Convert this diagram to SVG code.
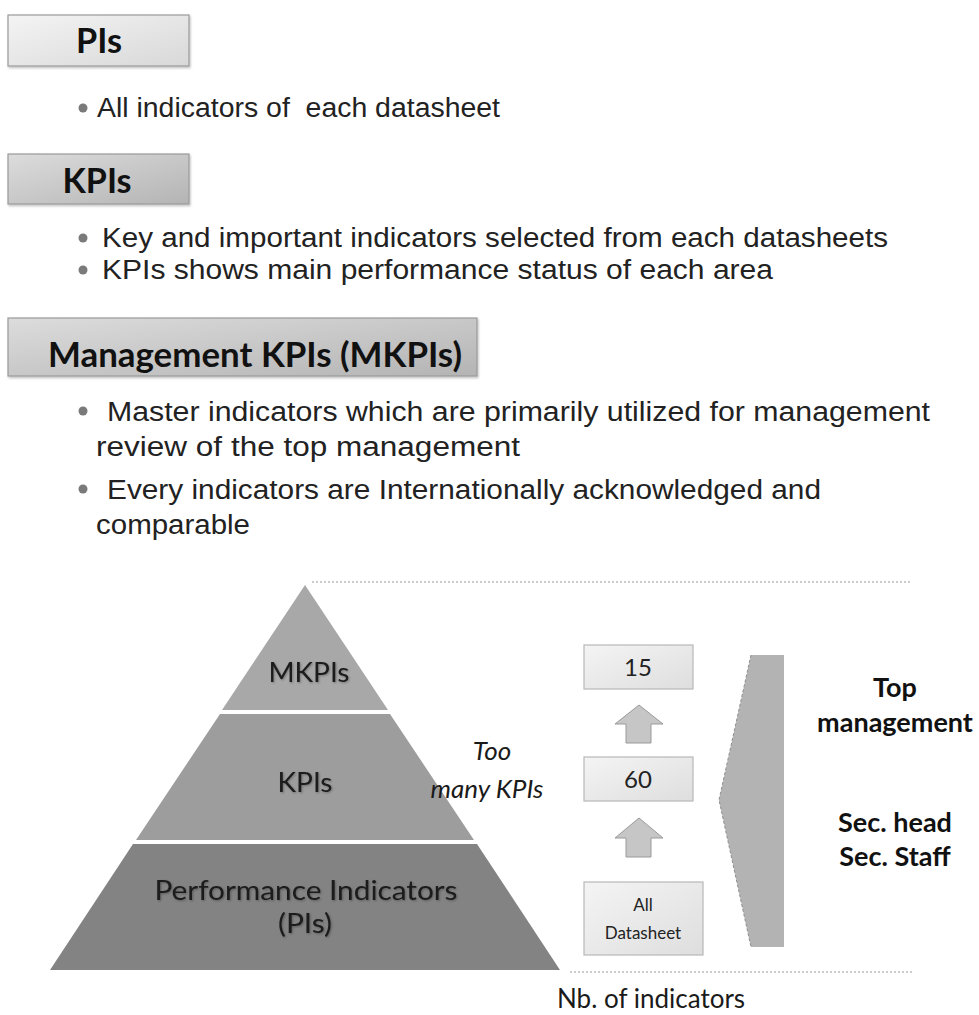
<svg xmlns="http://www.w3.org/2000/svg" width="979" height="1015" viewBox="0 0 979 1015">
  <defs>
    <linearGradient id="hdrLight" x1="0" y1="0" x2="1" y2="1">
      <stop offset="0" stop-color="#f4f4f4"/>
      <stop offset="1" stop-color="#d8d8d8"/>
    </linearGradient>
    <linearGradient id="hdrDark" x1="0" y1="0" x2="1" y2="1">
      <stop offset="0" stop-color="#dcdcdc"/>
      <stop offset="1" stop-color="#b4b4b4"/>
    </linearGradient>
    <linearGradient id="boxFill" x1="0" y1="0" x2="1" y2="1">
      <stop offset="0" stop-color="#f4f4f4"/>
      <stop offset="1" stop-color="#dedede"/>
    </linearGradient>
    <filter id="soft" x="-5%" y="-5%" width="110%" height="120%">
      <feDropShadow dx="1" dy="1.5" stdDeviation="1" flood-color="#000" flood-opacity="0.25"/>
    </filter>
    <filter id="txtShadow" x="-5%" y="-10%" width="110%" height="130%">
      <feDropShadow dx="1" dy="1" stdDeviation="0.8" flood-color="#000" flood-opacity="0.3"/>
    </filter>
  </defs>
  <style>
    .hdr { stroke: #9a9a9a; stroke-width: 1.2; }
    .hdrTxt { font-family: Lato, "Open Sans", sans-serif; font-weight: bold; fill: #111; text-anchor: middle; }
    .body { font-family: "Liberation Sans", Arial, sans-serif; font-size: 27px; fill: #222; white-space: pre; }
    .dot { fill: #7a7a7a; }
    .tierTxt { font-family: Lato, "Open Sans", sans-serif; font-size: 26px; fill: #1a1a1a; text-anchor: middle; }
    .num { fill: url(#boxFill); stroke: #b8b8b8; stroke-width: 1.2; }
    .numTxt { font-family: Lato, "Open Sans", sans-serif; font-size: 24px; fill: #222; text-anchor: middle; }
    .smallTxt { font-family: Lato, "Open Sans", sans-serif; font-size: 17px; fill: #222; text-anchor: middle; }
    .arrow { fill: #c6c6c6; stroke: #9a9a9a; stroke-width: 1; }
    .roleTxt { font-family: Lato, "Open Sans", sans-serif; font-weight: bold; font-size: 27px; fill: #111; text-anchor: middle; }
    .guide { stroke: #9a9a9a; stroke-width: 1.2; stroke-dasharray: 2 2; fill: none; }
  </style>

  <!-- Section: PIs -->
  <g id="hdr-pis">
    <rect class="hdr" x="8" y="15" width="181" height="51" fill="url(#hdrLight)" filter="url(#soft)"/>
    <text class="hdrTxt" x="99" y="53" font-size="34" textLength="46" lengthAdjust="spacingAndGlyphs">PIs</text>
  </g>
  <g id="txt-pis">
    <circle class="dot" cx="83" cy="108" r="4.5"/>
    <text class="body" x="97" y="117" font-size="26" textLength="403" lengthAdjust="spacingAndGlyphs">All indicators of  each datasheet</text>
  </g>

  <!-- Section: KPIs -->
  <g id="hdr-kpis">
    <rect class="hdr" x="8" y="154" width="181" height="50" fill="url(#hdrDark)" filter="url(#soft)"/>
    <text class="hdrTxt" x="97" y="193" font-size="35" textLength="69" lengthAdjust="spacingAndGlyphs">KPIs</text>
  </g>
  <g id="txt-kpis">
    <circle class="dot" cx="83" cy="238" r="4.5"/>
    <text class="body" x="102" y="247" textLength="786" lengthAdjust="spacingAndGlyphs">Key and important indicators selected from each datasheets</text>
    <circle class="dot" cx="83" cy="270" r="4.5"/>
    <text class="body" x="102" y="279" textLength="671" lengthAdjust="spacingAndGlyphs">KPIs shows main performance status of each area</text>
  </g>

  <!-- Section: Management KPIs -->
  <g id="hdr-mkpis">
    <rect class="hdr" x="8" y="318" width="469" height="58" fill="url(#hdrDark)" filter="url(#soft)"/>
    <text class="hdrTxt" x="255" y="367" font-size="35" textLength="414" lengthAdjust="spacingAndGlyphs">Management KPIs (MKPIs)</text>
  </g>
  <g id="txt-mkpis">
    <circle class="dot" cx="83" cy="411" r="4.5"/>
    <text class="body" x="107" y="421" textLength="823" lengthAdjust="spacingAndGlyphs">Master indicators which are primarily utilized for management</text>
    <text class="body" x="96" y="456" textLength="424" lengthAdjust="spacingAndGlyphs">review of the top management</text>
    <circle class="dot" cx="83" cy="489" r="4.5"/>
    <text class="body" x="107" y="499" textLength="714" lengthAdjust="spacingAndGlyphs">Every indicators are Internationally acknowledged and</text>
    <text class="body" x="96" y="534" textLength="154" lengthAdjust="spacingAndGlyphs">comparable</text>
  </g>

  <!-- Guide lines -->
  <g id="connectors">
    <line class="guide" x1="312" y1="582" x2="912" y2="582"/>
    <line class="guide" x1="570" y1="972" x2="912" y2="972"/>
  </g>

  <!-- Pyramid tiers -->
  <g id="tier-mkpis">
    <polygon points="305,585 388,710 222,710" fill="#a8a8a8"/>
    <text class="tierTxt" x="309" y="682" textLength="81" lengthAdjust="spacingAndGlyphs" filter="url(#txtShadow)">MKPIs</text>
  </g>
  <g id="tier-kpis">
    <polygon points="220,714 390,714 474,840 136,840" fill="#9d9d9d"/>
    <text class="tierTxt" x="305" y="792" textLength="55" lengthAdjust="spacingAndGlyphs" filter="url(#txtShadow)">KPIs</text>
  </g>
  <g id="tier-pis">
    <polygon points="133,844 477,844 560,970 50,970" fill="#838383"/>
    <text class="tierTxt" x="306" y="900" font-size="28" textLength="303" lengthAdjust="spacingAndGlyphs" filter="url(#txtShadow)">Performance Indicators</text>
    <text class="tierTxt" x="305" y="933" font-size="28" textLength="54" lengthAdjust="spacingAndGlyphs" filter="url(#txtShadow)">(PIs)</text>
  </g>

  <g id="note-too-many">
    <text class="tierTxt" x="492" y="760" font-size="22" font-style="italic">Too</text>
    <text class="tierTxt" x="487" y="798" font-size="22" font-style="italic">many KPIs</text>
  </g>

  <!-- Indicator counts -->
  <g id="count-15">
    <rect class="num" x="584" y="645" width="109" height="44"/>
    <text class="numTxt" x="638" y="676">15</text>
  </g>
  <g id="arrow-upper">
    <polygon class="arrow" points="639,705 663,724 651,724 651,743 626,743 626,724 615,724"/>
  </g>
  <g id="count-60">
    <rect class="num" x="584" y="757" width="109" height="44"/>
    <text class="numTxt" x="638" y="788">60</text>
  </g>
  <g id="arrow-lower">
    <polygon class="arrow" points="639,818 663,838 651,838 651,857 626,857 626,838 615,838"/>
  </g>
  <g id="count-all">
    <rect class="num" x="584" y="882" width="119" height="73"/>
    <text class="smallTxt" x="643" y="911">All</text>
    <text class="smallTxt" x="643" y="939">Datasheet</text>
  </g>

  <!-- Audience bracket -->
  <g id="bracket">
    <polygon points="751,655 784,655 784,947 751,947 719,800" fill="#b3b3b3"/>
    <polyline points="751,655 719,800 751,947" fill="none" stroke="#8f8f8f" stroke-width="1" stroke-dasharray="3 2"/>
  </g>
  <g id="role-top">
    <text class="roleTxt" x="895" y="697">Top</text>
    <text class="roleTxt" x="895" y="732">management</text>
  </g>
  <g id="role-sec">
    <text class="roleTxt" x="895" y="832">Sec. head</text>
    <text class="roleTxt" x="895" y="866">Sec. Staff</text>
  </g>

  <g id="axis-label">
    <text class="tierTxt" x="651" y="1008" font-size="26">Nb. of indicators</text>
  </g>
</svg>
